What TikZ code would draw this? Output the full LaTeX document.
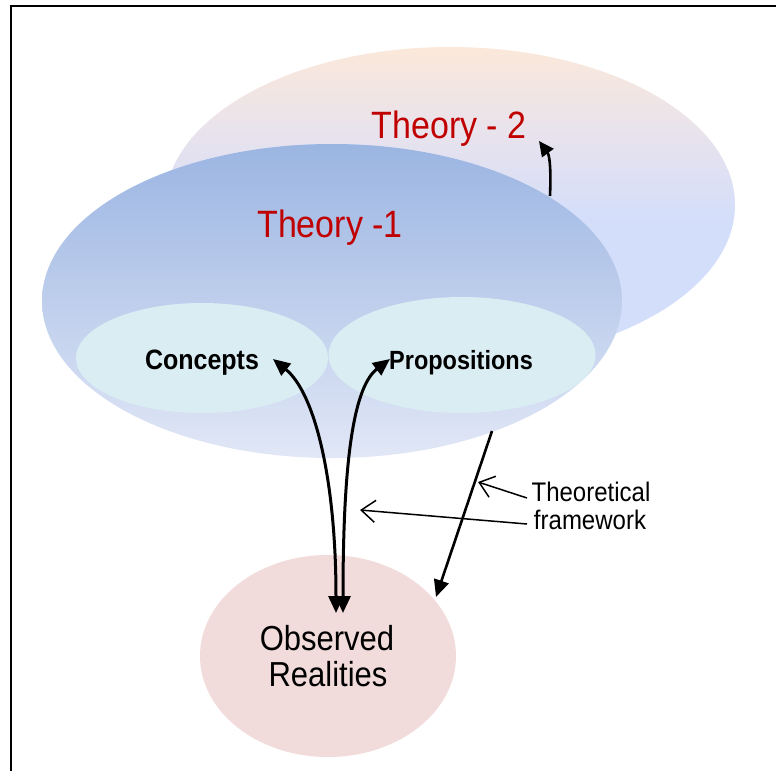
\documentclass[tikz,border=0pt]{standalone}
\usepackage{fontspec}
\setmainfont{Liberation Sans}
\usetikzlibrary{shapes.geometric,arrows.meta}
\definecolor{thred}{HTML}{C00000}
\definecolor{tIItop}{HTML}{FBE8DA}
\definecolor{tIImid}{HTML}{E6E2EE}
\definecolor{tIIbot}{HTML}{D3DEFB}
\definecolor{tItop}{HTML}{9BB5E2}
\definecolor{tIbot}{HTML}{E1E7F6}
\definecolor{inner}{HTML}{DAEDF3}
\definecolor{obsfill}{HTML}{F2DCDB}
\pgfdeclareverticalshading{theoryIIshade}{100bp}{color(0bp)=(tIIbot); color(25bp)=(tIIbot); color(47bp)=(tIIbot); color(60bp)=(tIImid); color(75bp)=(tIItop); color(100bp)=(tIItop)}
\newcommand{\tallt}[1]{\scalebox{1}[1.12]{#1}}
\begin{document}
\begin{tikzpicture}[x=1pt,y=-1pt,
  blob/.style={ellipse,inner sep=0pt,draw=none},
  lbl/.style={inner sep=0pt,anchor=base,align=center},
  bigarrow/.style={line width=3pt,-{Triangle[length=17pt,width=15pt]}},
  dblarrow/.style={line width=3pt,{Triangle[length=17pt,width=15pt]}-{Triangle[length=17pt,width=15pt]}},
  pointer/.style={line width=1.5pt,-{Straight Barb[length=14pt,width=22pt,line width=1.5pt]}}
]
\useasboundingbox (0,0) rectangle (776,771);
\fill[white] (0,0) rectangle (776,771);
\draw[line width=2.2pt] (11,771) -- (11,6) -- (776,6);

% ellipses
\node[blob,minimum width=570pt,minimum height=316pt,shading=theoryIIshade] (t2) at (450,205) {};
\node[blob,minimum width=580pt,minimum height=314pt,top color=tItop,bottom color=tIbot] (t1) at (332,301) {};
\node[blob,minimum width=252pt,minimum height=110pt,fill=inner] (conc) at (202,358) {};
\node[blob,minimum width=267pt,minimum height=116pt,fill=inner] (prop) at (462,355) {};
\node[blob,minimum width=256pt,minimum height=202pt,fill=obsfill] (obs) at (328,656) {};

% labels
\node[lbl,text=thred,font=\fontsize{34}{40}\selectfont] (t2lbl) at (449,138) {\tallt{Theory - 2}};
\node[lbl,text=thred,font=\fontsize{34}{40}\selectfont] (t1lbl) at (330,237) {\tallt{Theory -1}};
\node[lbl,font=\bfseries\fontsize{25}{30}\selectfont] (clbl) at (202,369) {\tallt{Concepts}};
\node[lbl,font=\bfseries\fontsize{23.5}{30}\selectfont] (plbl) at (461,369) {\tallt{Propositions}};
\node[lbl,font=\fontsize{31}{36}\selectfont] (olbl1) at (327,650) {\tallt{Observed}};
\node[lbl,font=\fontsize{31}{36}\selectfont] (olbl2) at (328,686) {\tallt{Realities}};
\node[lbl,font=\fontsize{24}{28}\selectfont] (tf1) at (591,501) {\tallt{Theoretical}};
\node[lbl,font=\fontsize{24}{28}\selectfont] (tf2) at (590,529) {\tallt{framework}};

% connector end points
\coordinate (cTip) at (273,359);
\coordinate (pTip) at (390,359);
\coordinate (oTipA) at (336,613);
\coordinate (oTipB) at (343,613);
\coordinate (t1Out) at (492,431);
\coordinate (oTipC) at (436,597);
\coordinate (t1Up) at (550,196);
\coordinate (t2Tip) at (539,141);
\coordinate (tfA) at (527,498);
\coordinate (tfB) at (527,524);
\coordinate (ptA) at (478,482);
\coordinate (ptB) at (360,510);

% arrows
\draw[dblarrow] (cTip) .. controls (315,393) and (336,480) .. (oTipA);
\draw[dblarrow] (pTip) .. controls (352,388) and (343,470) .. (oTipB);
\draw[bigarrow,line width=2.6pt] (t1Out) -- (oTipC);
\draw[line width=2.6pt,-{Triangle[length=15pt,width=14pt]}] (t1Up) .. controls (551,172) and (550,156) .. (t2Tip);
\draw[pointer] (tfA) -- (ptA);
\draw[pointer] (tfB) -- (ptB);
\end{tikzpicture}
\end{document}
